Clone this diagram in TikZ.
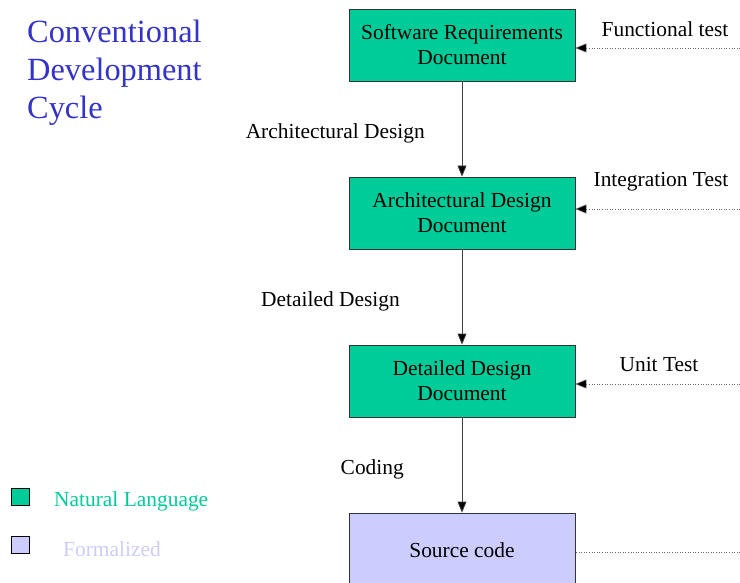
\documentclass[tikz,border=0pt]{standalone}
\usepackage{fontspec}
\setmainfont{Liberation Serif}
\usetikzlibrary{arrows.meta}
\definecolor{natgreen}{HTML}{00CC99}
\definecolor{formal}{HTML}{CCCCFF}
\definecolor{titleblue}{HTML}{3333CC}
\begin{document}
\begin{tikzpicture}[x=1bp,y=-1bp,
  docbox/.style={draw=black!80, line width=0.8bp, fill=natgreen, minimum width=226bp, minimum height=72bp, align=center, inner sep=0pt, font=\fontsize{21.5}{25}\selectfont},
  srcbox/.style={docbox, fill=formal},
  lbl/.style={font=\fontsize{21.5}{25}\selectfont, inner sep=0pt},
  flow/.style={draw=black!75, line width=0.8bp, -{Triangle[length=11bp,width=9bp,fill=black]}},
  test/.style={draw=black!60, line width=0.6bp, dotted, -{Triangle[length=11bp,width=9bp,fill=black]}},
  legbox/.style={draw=black, line width=0.8bp, minimum width=18bp, minimum height=17bp, inner sep=0pt}
]
\useasboundingbox (0,0) rectangle (740,583);

% title
\node[anchor=west, align=left, text=titleblue, font=\fontsize{32.5}{38}\selectfont, inner sep=0pt] (title) at (27,73)
  {Conventional\\Development\\Cycle};

% document chain
\node[docbox] (srd) at (462,45) {Software Requirements\\Document};
\node[docbox] (add) at (462,213) {Architectural Design\\Document};
\node[docbox] (ddd) at (462,381) {Detailed Design\\Document};
\node[srcbox, minimum height=80bp] (src) at (462,553) {};
\node[lbl] (srct) at (462,550) {Source code};

\draw[flow] (srd) -- (add);
\draw[flow] (add) -- (ddd);
\draw[flow] (ddd) -- (src);

\node[lbl, anchor=east] (l1) at (425,133) {Architectural Design};
\node[lbl, anchor=east] (l2) at (400,301) {Detailed Design};
\node[lbl, anchor=east] (l3) at (404,469) {Coding};

% test feedback lines
\coordinate (t1) at (740,48);
\coordinate (t2) at (740,209);
\coordinate (t3) at (740,384);
\coordinate (t4) at (740,552);
\draw[test] (t1) -- (t1 -| srd.east);
\draw[test] (t2) -- (t2 -| add.east);
\draw[test] (t3) -- (t3 -| ddd.east);
\draw[draw=black!60, line width=0.6bp, dotted] (t4) -- (t4 -| src.east);

\node[lbl] (ft) at (665,29) {Functional test};
\node[lbl] (it) at (661,182) {Integration Test};
\node[lbl] (ut) at (659,365) {Unit Test};

% legend
\node[legbox, fill=natgreen] (kg) at (20,497) {};
\node[legbox, fill=formal] (kf) at (20,545) {};
\node[lbl, anchor=west, text=natgreen] (kgt) at (54,501) {Natural Language};
\node[lbl, anchor=west, text=formal] (kft) at (63,549) {Formalized};
\end{tikzpicture}
\end{document}
